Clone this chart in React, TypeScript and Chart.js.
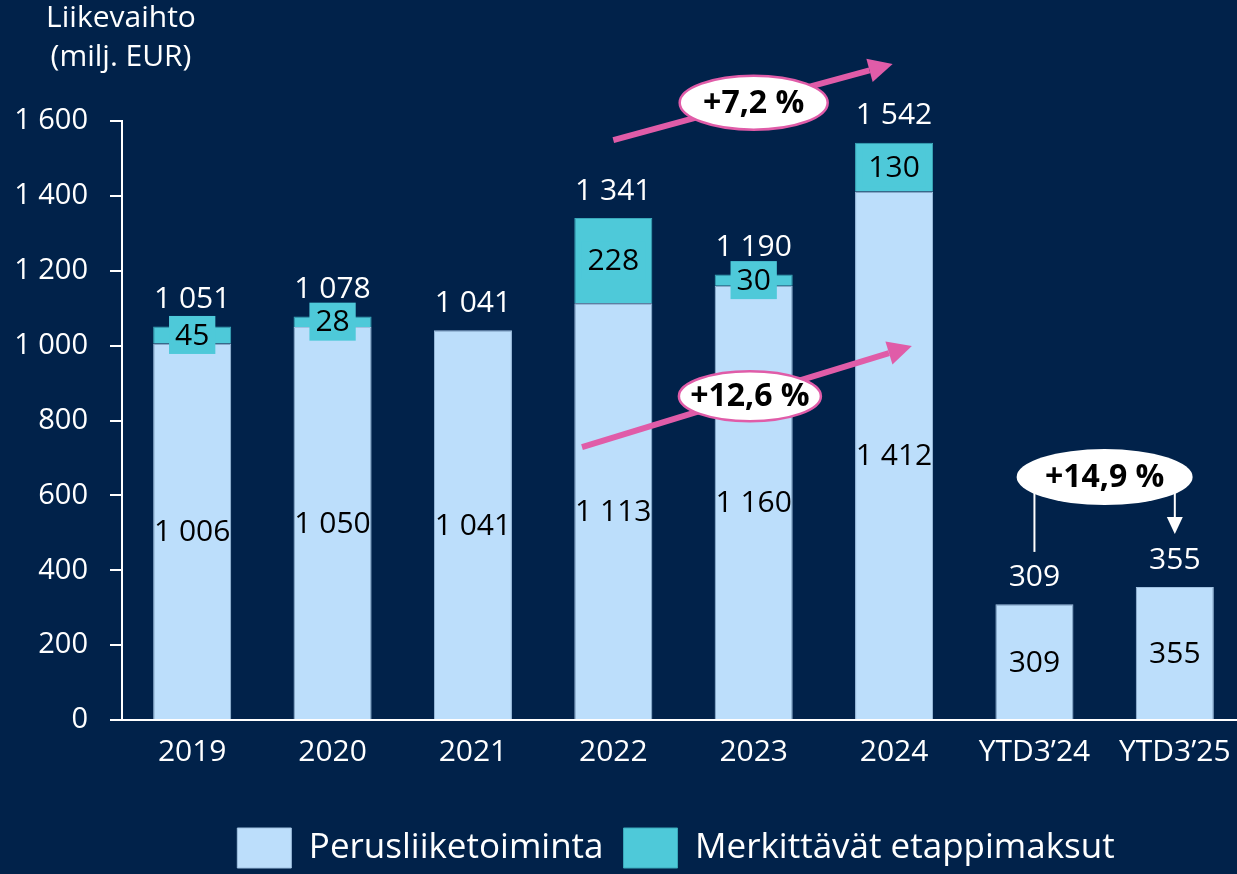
import React, { useEffect, useRef } from "react";
import { Chart, registerables } from "chart.js";

Chart.register(...registerables);

const categories = ["2019", "2020", "2021", "2022", "2023", "2024", "YTD3’24", "YTD3’25"];
const baseValues = [1006, 1050, 1041, 1113, 1160, 1412, 309, 355];
const milestoneValues = [45, 28, 0, 228, 30, 130, 0, 0];
const totalValues = [1051, 1078, 1041, 1341, 1190, 1542, 309, 355];
const seriesNames = ["Perusliiketoiminta", "Merkittävät etappimaksut"];
const axisTitleLines = ["Liikevaihto", "(milj. EUR)"];
const growthLabels = ["+7,2 %", "+12,6 %", "+14,9 %"];
const yMin = 0;
const yMax = 1600;
const yStep = 200;

const FONT = "'Open Sans', 'Noto Sans', sans-serif";
const BG = "#01224a";
const LIGHT = "#bcdefb";
const TEAL = "#4ec9d9";
const PINK = "#e05ca8";

const fmt = (v: number) => String(Math.round(v)).replace(/\B(?=(\d{3})+(?!\d))/g, " ");

// annotation geometry: [category index, value]
const arrow1 = { from: [3.0, 1549], to: [4.99, 1752], center: [4.0, 1649], rx: 74, ry: 27 };
const arrow2 = { from: [2.777, 729], to: [5.127, 999], center: [3.973, 865], rx: 71, ry: 25 };
const bracket = { left: 6, right: 7, center: [6.5, 649], top: 614, leftBottom: 449, rightTip: 497, rx: 88, ry: 28 };

export default function App() {
  const ref = useRef<HTMLCanvasElement>(null);
  useEffect(() => {
    if (!ref.current) return;

    const bgPlugin = {
      id: "bg",
      beforeDraw(chart: any) {
        const { ctx, width, height } = chart;
        ctx.save();
        ctx.fillStyle = BG;
        ctx.fillRect(0, 0, width, height);
        ctx.restore();
      },
      afterLayout(chart: any) {
        const L = chart.legend;
        if (!L) return;
        const w = L.right - L.left;
        const center = 676;
        L.left = center - w / 2;
        L.right = L.left + w;
      },
    };

    const labelPlugin = {
      id: "labels",
      afterDatasetsDraw(chart: any) {
        const ctx = chart.ctx;
        const xs = chart.scales.x;
        const ys = chart.scales.y;
        ctx.save();
        ctx.font = `30px ${FONT}`;
        ctx.textAlign = "center";
        ctx.textBaseline = "middle";
        categories.forEach((_c, i) => {
          const cx = xs.getPixelForValue(i);
          const y0 = ys.getPixelForValue(0);
          const yb = ys.getPixelForValue(baseValues[i]);
          ctx.fillStyle = "#000";
          ctx.fillText(fmt(baseValues[i]), cx, (y0 + yb) / 2 + 1);
          if (milestoneValues[i] > 0) {
            const yt = ys.getPixelForValue(baseValues[i] + milestoneValues[i]);
            const my = (yb + yt) / 2;
            const t = fmt(milestoneValues[i]);
            const w = ctx.measureText(t).width + 12;
            ctx.fillStyle = TEAL;
            ctx.fillRect(cx - w / 2, my - 19, w, 38);
            ctx.fillStyle = "#000";
            ctx.fillText(t, cx, my + 1);
          }
          ctx.fillStyle = "#fff";
          ctx.fillText(fmt(totalValues[i]), cx, ys.getPixelForValue(totalValues[i]) - 27);
        });
        ctx.restore();
      },
      afterDraw(chart: any) {
        const ctx = chart.ctx;
        const xs = chart.scales.x;
        const ys = chart.scales.y;
        const step = xs.width / categories.length;
        const px = (i: number) => xs.left + (i + 0.5) * step;
        const py = (v: number) => ys.getPixelForValue(v);
        ctx.save();
        // axis title
        ctx.fillStyle = "#fff";
        ctx.font = `30px ${FONT}`;
        ctx.textAlign = "center";
        ctx.textBaseline = "middle";
        ctx.fillText(axisTitleLines[0], xs.left - 1, 18);
        ctx.fillText(axisTitleLines[1], xs.left - 1, 57);

        const drawArrow = (a: any, label: string) => {
          const x1 = px(a.from[0]), y1 = py(a.from[1]);
          const x2 = px(a.to[0]), y2 = py(a.to[1]);
          const ang = Math.atan2(y2 - y1, x2 - x1);
          const hl = 24, hw = 12;
          const bx = x2 - hl * Math.cos(ang), by = y2 - hl * Math.sin(ang);
          ctx.strokeStyle = PINK;
          ctx.lineWidth = 6;
          ctx.beginPath();
          ctx.moveTo(x1, y1);
          ctx.lineTo(bx, by);
          ctx.stroke();
          ctx.fillStyle = PINK;
          ctx.beginPath();
          ctx.moveTo(x2, y2);
          ctx.lineTo(bx + hw * Math.sin(ang), by - hw * Math.cos(ang));
          ctx.lineTo(bx - hw * Math.sin(ang), by + hw * Math.cos(ang));
          ctx.closePath();
          ctx.fill();
          const ex = px(a.center[0]), ey = py(a.center[1]);
          ctx.beginPath();
          ctx.ellipse(ex, ey, a.rx, a.ry, 0, 0, Math.PI * 2);
          ctx.fillStyle = "#fff";
          ctx.fill();
          ctx.lineWidth = 2.5;
          ctx.strokeStyle = PINK;
          ctx.stroke();
          ctx.fillStyle = "#000";
          ctx.font = `bold 32px ${FONT}`;
          ctx.textAlign = "center";
          ctx.textBaseline = "middle";
          ctx.fillText(label, ex, ey + 1);
        };
        drawArrow(arrow1, growthLabels[0]);
        drawArrow(arrow2, growthLabels[1]);

        // bracket annotation
        const lx = px(bracket.left), rx = px(bracket.right);
        ctx.strokeStyle = "#fff";
        ctx.fillStyle = "#fff";
        ctx.lineWidth = 2;
        ctx.beginPath();
        ctx.moveTo(lx, py(bracket.top));
        ctx.lineTo(lx, py(bracket.leftBottom));
        ctx.stroke();
        const tipY = py(bracket.rightTip);
        ctx.beginPath();
        ctx.moveTo(rx, py(bracket.top));
        ctx.lineTo(rx, tipY - 16);
        ctx.stroke();
        ctx.beginPath();
        ctx.moveTo(rx, tipY);
        ctx.lineTo(rx - 8, tipY - 17);
        ctx.lineTo(rx + 8, tipY - 17);
        ctx.closePath();
        ctx.fill();
        const ex = px(bracket.center[0]), ey = py(bracket.center[1]);
        ctx.beginPath();
        ctx.ellipse(ex, ey, bracket.rx, bracket.ry, 0, 0, Math.PI * 2);
        ctx.fillStyle = "#fff";
        ctx.fill();
        ctx.fillStyle = "#000";
        ctx.font = `bold 32px ${FONT}`;
        ctx.fillText(growthLabels[2], ex, ey + 1);
        ctx.restore();
      },
    };

    const chart = new Chart(ref.current, {
      type: "bar",
      data: {
        labels: categories,
        datasets: [
          {
            label: seriesNames[0],
            data: baseValues,
            backgroundColor: LIGHT,
            borderColor: "#9fc0e0",
            borderWidth: 1,
            barPercentage: 0.556,
            categoryPercentage: 1,
          },
          {
            label: seriesNames[1],
            data: milestoneValues,
            backgroundColor: TEAL,
            borderColor: "#3aa9ba",
            borderWidth: 1,
            barPercentage: 0.556,
            categoryPercentage: 1,
          },
        ],
      },
      options: {
        responsive: false,
        animation: false,
        devicePixelRatio: 1,
        layout: { padding: { top: 121, left: 0, right: 5, bottom: 0 } },
        plugins: {
          tooltip: { enabled: false },
          legend: {
            position: "bottom",
            labels: {
              color: "#fff",
              font: { family: FONT, size: 35 },
              boxWidth: 54,
              boxHeight: 40,
              padding: 20,
            },
          },
        },
        scales: {
          x: {
            stacked: true,
            grid: { display: false },
            border: { color: "#fff", width: 2 },
            ticks: { color: "#fff", font: { family: FONT, size: 30 }, padding: 6, maxRotation: 0 },
            afterFit(scale: any) {
              scale.height = 88;
            },
          },
          y: {
            stacked: true,
            min: yMin,
            max: yMax,
            grid: { drawOnChartArea: false, color: "#fff", lineWidth: 2, tickLength: 12 },
            border: { color: "#fff", width: 2 },
            ticks: {
              stepSize: yStep,
              color: "#fff",
              font: { family: FONT, size: 29 },
              padding: 22,
              callback: (v: any) => fmt(Number(v)),
            },
            afterFit(scale: any) {
              scale.width = 122;
            },
          },
        },
      },
      plugins: [bgPlugin, labelPlugin],
    } as any);
    return () => chart.destroy();
  }, []);

  return (
    <div
      style={{
        position: "fixed",
        left: 0,
        top: 0,
        width: 1237,
        height: 874,
        overflow: "hidden",
        background: BG,
      }}
    >
      <canvas ref={ref} width={1250} height={878} style={{ display: "block", width: 1250, height: 878 }} />
    </div>
  );
}
